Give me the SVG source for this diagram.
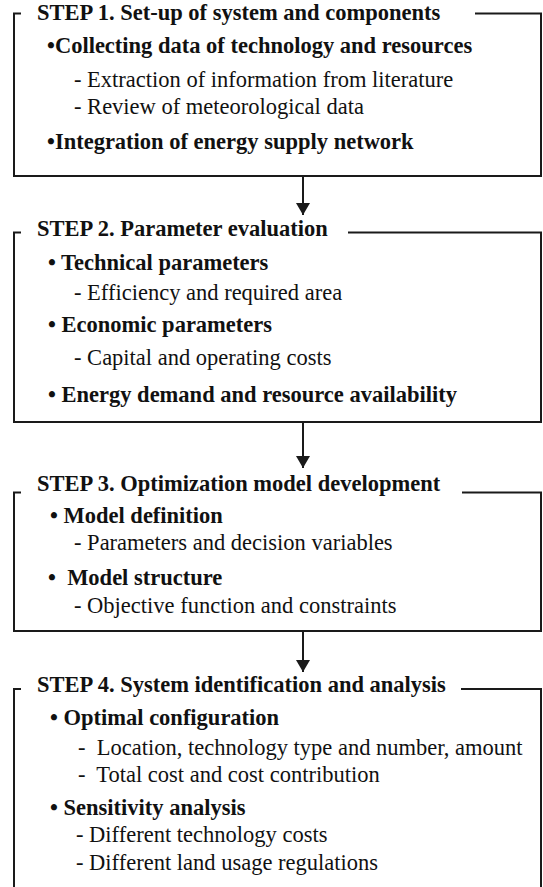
<svg xmlns="http://www.w3.org/2000/svg" width="543" height="887" viewBox="0 0 543 887">
  <style>
    .frame { fill: none; stroke: #1a1a1a; stroke-width: 2; }
    .link { fill: none; stroke: #1a1a1a; stroke-width: 2; }
    text { font-family: "Liberation Serif", "Times New Roman", serif; fill: #111; }
    .title { font-size: 22.5px; font-weight: bold; }
    .head { font-size: 22.5px; font-weight: bold; }
    .item { font-size: 22.5px; }
  </style>
  <defs>
    <marker id="arrow" viewBox="0 0 12 14" refX="12" refY="7" markerWidth="12" markerHeight="14" markerUnits="userSpaceOnUse" orient="auto">
      <path d="M0,0 L12,7 L0,14 Z" fill="#1a1a1a"/>
    </marker>
  </defs>

  <rect width="543" height="887" fill="#fff"/>

  <!-- Step 1 -->
  <g id="step1">
    <path class="frame" d="M21,13.5 H14 V176 H541 V13.5 H475"/>
    <text class="title" x="37" y="20">STEP 1. Set-up of system and components</text>
    <text class="head" x="47" y="52.5">•Collecting data of technology and resources</text>
    <text class="item" x="74" y="86.5">- Extraction of information from literature</text>
    <text class="item" x="74" y="114">- Review of meteorological data</text>
    <text class="head" x="47" y="149">•Integration of energy supply network</text>
  </g>

  <!-- Step 2 -->
  <g id="step2">
    <path class="frame" d="M21,232.5 H14 V422 H541 V232.5 H348"/>
    <text class="title" x="37" y="236">STEP 2. Parameter evaluation</text>
    <text class="head" x="48" y="270">• Technical parameters</text>
    <text class="item" x="74" y="300">- Efficiency and required area</text>
    <text class="head" x="48" y="332">• Economic parameters</text>
    <text class="item" x="74" y="365">- Capital and operating costs</text>
    <text class="head" x="48" y="402">• Energy demand and resource availability</text>
  </g>

  <!-- Step 3 -->
  <g id="step3">
    <path class="frame" d="M21,492.5 H14 V631 H541 V492.5 H462"/>
    <text class="title" x="37" y="491">STEP 3. Optimization model development</text>
    <text class="head" x="50" y="523">• Model definition</text>
    <text class="item" x="74" y="550">- Parameters and decision variables</text>
    <text class="head" x="48" y="585" xml:space="preserve">•  Model structure</text>
    <text class="item" x="74" y="613">- Objective function and constraints</text>
  </g>

  <!-- Step 4 (frame runs past the lower edge) -->
  <g id="step4">
    <path class="frame" d="M21,689 H14 V890"/>
    <path class="frame" d="M461,689 H541 V890"/>
    <text class="title" x="37" y="692">STEP 4. System identification and analysis</text>
    <text class="head" x="50" y="725">• Optimal configuration</text>
    <text class="item" x="78" y="755" xml:space="preserve">-  Location, technology type and number, amount</text>
    <text class="item" x="78" y="782" xml:space="preserve">-  Total cost and cost contribution</text>
    <text class="head" x="50" y="815">• Sensitivity analysis</text>
    <text class="item" x="76" y="842">- Different technology costs</text>
    <text class="item" x="76" y="870">- Different land usage regulations</text>
  </g>

  <!-- Connectors between steps -->
  <g id="connectors">
    <line class="link" x1="303" y1="176" x2="303" y2="215" marker-end="url(#arrow)"/>
    <line class="link" x1="303" y1="422" x2="303" y2="468" marker-end="url(#arrow)"/>
    <line class="link" x1="303" y1="631" x2="303" y2="672" marker-end="url(#arrow)"/>
  </g>
</svg>
